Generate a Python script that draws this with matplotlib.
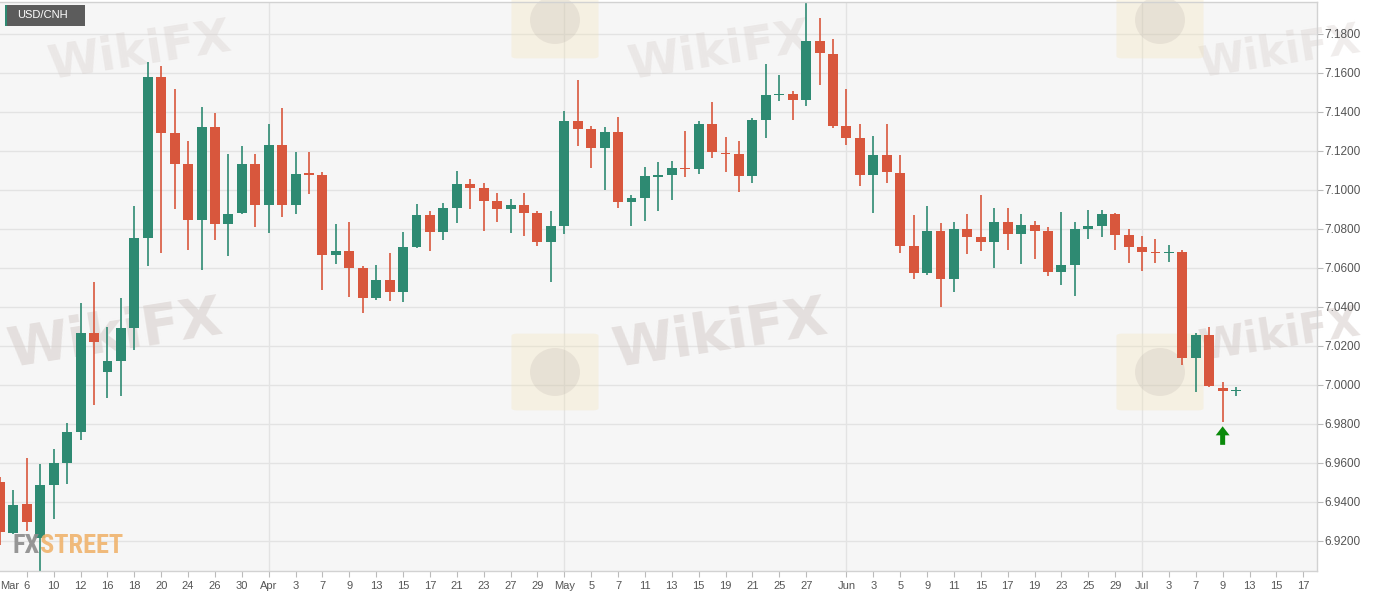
import numpy as np
import pandas as pd
import matplotlib
matplotlib.use("Agg")
import matplotlib.pyplot as plt
from matplotlib import font_manager
from matplotlib.patches import FancyBboxPatch, Rectangle, Ellipse

# -----------------------------
# Dados: USD/CNH diário (mar-jul 2020)
# -----------------------------
dates = pd.bdate_range("2020-03-04", "2020-07-10")

opens = [6.9501, 6.9242, 6.9389, 6.9217, 6.9487, 6.9598, 6.9759, 7.0268, 7.0064, 7.0123,
         7.0291, 7.0755, 7.1581, 7.1291, 7.1135, 7.0845, 7.1321, 7.0825, 7.0880, 7.1133,
         7.0925, 7.1231, 7.0921, 7.1086, 7.1078, 7.0669, 7.0685, 7.0598, 7.0446, 7.0538,
         7.0477, 7.0708, 7.0872, 7.0782, 7.0910, 7.1031, 7.1011, 7.0941, 7.0904, 7.0921,
         7.0882, 7.0733, 7.0814, 7.1356, 7.1311, 7.1213, 7.1295, 7.0939, 7.0958, 7.1072,
         7.1076, 7.1115, 7.1107, 7.1338, 7.1193, 7.1186, 7.1072, 7.1358, 7.1489, 7.1491,
         7.1461, 7.1765, 7.1698, 7.1328, 7.1264, 7.1078, 7.1180, 7.1088, 7.0712, 7.0573,
         7.0788, 7.0544, 7.0802, 7.0759, 7.0731, 7.0835, 7.0775, 7.0822, 7.0792, 7.0581,
         7.0616, 7.0800, 7.0814, 7.0876, 7.0771, 7.0710, 7.0683, 7.0679, 7.0681, 7.0137,
         7.0254, 6.9984, 6.9970]
highs = [6.9530, 6.9461, 6.9628, 6.9593, 6.9671, 6.9804, 7.0420, 7.0528, 7.0299, 7.0446,
         7.0917, 7.1657, 7.1634, 7.1520, 7.1252, 7.1428, 7.1397, 7.1184, 7.1223, 7.1184,
         7.1338, 7.1422, 7.1197, 7.1197, 7.1092, 7.0825, 7.0835, 7.0612, 7.0614, 7.0677,
         7.0786, 7.0929, 7.0894, 7.0933, 7.1095, 7.1056, 7.1035, 7.0984, 7.0955, 7.0984,
         7.0894, 7.0894, 7.1405, 7.1563, 7.1330, 7.1322, 7.1373, 7.0974, 7.1117, 7.1142,
         7.1148, 7.1303, 7.1354, 7.1452, 7.1272, 7.1250, 7.1370, 7.1647, 7.1589, 7.1510,
         7.1966, 7.1884, 7.1775, 7.1520, 7.1340, 7.1277, 7.1338, 7.1178, 7.0874, 7.0917,
         7.0829, 7.0837, 7.0876, 7.0974, 7.0908, 7.0908, 7.0876, 7.0841, 7.0808, 7.0888,
         7.0835, 7.0898, 7.0898, 7.0880, 7.0802, 7.0763, 7.0747, 7.0718, 7.0690, 7.0268,
         7.0297, 7.0015, 6.9988]
lows = [6.9178, 6.9236, 6.9252, 6.9040, 6.9315, 6.9491, 6.9716, 6.9896, 6.9935, 6.9941,
        7.0180, 7.0610, 7.0675, 7.0902, 7.0690, 7.0591, 7.0743, 7.0661, 7.0875, 7.0808,
        7.0778, 7.0861, 7.0876, 7.0978, 7.0489, 7.0620, 7.0450, 7.0367, 7.0436, 7.0430,
        7.0424, 7.0700, 7.0685, 7.0741, 7.0833, 7.0902, 7.0790, 7.0835, 7.0778, 7.0765,
        7.0712, 7.0528, 7.0773, 7.1225, 7.1113, 7.1002, 7.0908, 7.0816, 7.0841, 7.0892,
        7.0949, 7.1066, 7.1082, 7.1164, 7.1090, 7.0992, 7.1037, 7.1268, 7.1458, 7.1360,
        7.1432, 7.1540, 7.1317, 7.1231, 7.1019, 7.0880, 7.1037, 7.0679, 7.0542, 7.0563,
        7.0399, 7.0477, 7.0671, 7.0685, 7.0598, 7.0690, 7.0620, 7.0645, 7.0559, 7.0512,
        7.0456, 7.0751, 7.0757, 7.0690, 7.0628, 7.0585, 7.0626, 7.0630, 7.0103, 6.9964,
        6.9990, 6.9808, 6.9945]
closes = [6.9246, 6.9387, 6.9295, 6.9487, 6.9598, 6.9759, 7.0268, 7.0221, 7.0123, 7.0291,
          7.0755, 7.1581, 7.1293, 7.1135, 7.0845, 7.1321, 7.0825, 7.0878, 7.1133, 7.0925,
          7.1231, 7.0921, 7.1084, 7.1082, 7.0669, 7.0685, 7.0600, 7.0446, 7.0538, 7.0477,
          7.0708, 7.0872, 7.0782, 7.0910, 7.1031, 7.1011, 7.0941, 7.0904, 7.0921, 7.0882,
          7.0733, 7.0814, 7.1356, 7.1311, 7.1213, 7.1295, 7.0939, 7.0958, 7.1074, 7.1075,
          7.1113, 7.1107, 7.1338, 7.1195, 7.1189, 7.1072, 7.1358, 7.1489, 7.1491, 7.1461,
          7.1765, 7.1700, 7.1328, 7.1266, 7.1078, 7.1180, 7.1090, 7.0714, 7.0573, 7.0788,
          7.0544, 7.0802, 7.0759, 7.0731, 7.0835, 7.0775, 7.0822, 7.0792, 7.0581, 7.0616,
          7.0800, 7.0814, 7.0876, 7.0771, 7.0710, 7.0681, 7.0679, 7.0683, 7.0137, 7.0254,
          6.9994, 6.9968, 6.9973]

tick_dates = ["2020-03-06", "2020-03-10", "2020-03-12", "2020-03-16", "2020-03-18",
              "2020-03-20", "2020-03-24", "2020-03-26", "2020-03-30", "2020-04-01",
              "2020-04-03", "2020-04-07", "2020-04-09", "2020-04-13", "2020-04-15",
              "2020-04-17", "2020-04-21", "2020-04-23", "2020-04-27", "2020-04-29",
              "2020-05-01", "2020-05-05", "2020-05-07", "2020-05-11", "2020-05-13",
              "2020-05-15", "2020-05-19", "2020-05-21", "2020-05-25", "2020-05-27",
              "2020-06-01", "2020-06-03", "2020-06-05", "2020-06-09", "2020-06-11",
              "2020-06-15", "2020-06-17", "2020-06-19", "2020-06-23", "2020-06-25",
              "2020-06-29", "2020-07-01", "2020-07-03", "2020-07-07", "2020-07-09",
              "2020-07-13", "2020-07-15", "2020-07-17"]
tick_labels = ["6", "10", "12", "16", "18", "20", "24", "26", "30", "Apr",
               "3", "7", "9", "13", "15", "17", "21", "23", "27", "29",
               "May", "5", "7", "11", "13", "15", "19", "21", "25", "27",
               "Jun", "3", "5", "9", "11", "15", "17", "19", "23", "25",
               "29", "Jul", "3", "7", "9", "13", "15", "17"]
month_dates = ["2020-04-01", "2020-05-01", "2020-06-01", "2020-07-01"]
signal_date = "2020-07-09"

# -----------------------------
# Estilo
# -----------------------------
plt.rcParams["font.family"] = ["Liberation Sans", "DejaVu Sans"]
VERDE = "#2e8a72"
VERMELHO = "#d8573d"
CINZA_TXT = "#555555"
GRADE = "#e3e3e3"

calendario = pd.bdate_range("2020-03-04", "2020-07-17")
pos = {d: i for i, d in enumerate(calendario)}
x = np.array([pos[d] for d in dates])

o = np.array(opens)
h = np.array(highs)
l = np.array(lows)
c = np.array(closes)
cores = np.where(c >= o, VERDE, VERMELHO)

W, H = 1387, 598
fig = plt.figure(figsize=(W / 100, H / 100), dpi=100)
fig.patch.set_facecolor("white")
ax = fig.add_axes([0.0, 27 / H, 1316.7 / W, 569 / H])
ax.set_facecolor("#f6f6f6")

# grade
yticks = np.round(np.arange(6.92, 7.1801, 0.02), 2)
for yv in yticks:
    ax.axhline(yv, color=GRADE, lw=1, zorder=0.5)
for md in month_dates:
    ax.axvline(pos[pd.Timestamp(md)], color=GRADE, lw=1, zorder=0.5)

# marcas d'agua WikiFX
def fx(px):
    return px / W

def fy(py):
    return 1 - py / H

# no original as da borda ficam cortadas; aqui ficam inteiras dentro da imagem
for cx, cy, tam, alfa in [(115, 335, 40, 0.55), (720, 335, 40, 0.55), (1280, 335, 30, 0.55),
                          (140, 52, 34, 0.35), (720, 52, 34, 0.35), (1280, 52, 30, 0.35)]:
    ax.text(fx(cx), fy(cy), "WikiFX", transform=fig.transFigure, fontsize=tam,
            fontweight="bold", family="DejaVu Sans", color="#d6cdca", alpha=alfa,
            rotation=9, ha="center", va="center", clip_on=False, zorder=1)
for ix in (555, 1160):
    for iy in (20, 372):
        ax.add_patch(FancyBboxPatch((fx(ix - 38), fy(iy + 36)), 76 / W, 72 / H,
                                    boxstyle="round,pad=0.004", transform=fig.transFigure,
                                    facecolor="#f3e3b5", edgecolor="none", alpha=0.3,
                                    clip_on=False, zorder=1))
        ax.add_patch(Ellipse((fx(ix), fy(iy)), 50 / W, 48 / H, transform=fig.transFigure,
                             facecolor="#b9aea8", edgecolor="none", alpha=0.22,
                             clip_on=False, zorder=1))

# candles
ax.vlines(x, l, h, colors=cores, lw=1.2, zorder=2)
corpo = np.maximum(np.abs(c - o), 0.0006)
base = np.minimum(o, c) - np.where(np.abs(c - o) < 0.0006, 0.0003, 0)
ax.bar(x, corpo, bottom=base, width=0.74, color=cores, edgecolor="none", zorder=3)

# seta de sinal
xs = pos[pd.Timestamp(signal_date)]
ax.annotate("", xy=(xs, 6.9788), xytext=(xs, 6.9693),
            arrowprops=dict(facecolor="#0a8a0a", edgecolor="none", width=3.6,
                            headwidth=10, headlength=6.5, shrink=0), zorder=4)

# eixos
ax.set_xlim(0, 98.0)
ax.set_ylim(6.9046, 7.1964)
ax.yaxis.tick_right()
ax.set_yticks(yticks)
ax.set_yticklabels([f"{v:.4f}" for v in yticks])
ax.set_xticks([pos[pd.Timestamp(d)] for d in tick_dates])
ax.set_xticklabels(tick_labels)
ax.tick_params(axis="y", length=4, pad=1.5, color="#bbbbbb", labelcolor=CINZA_TXT,
               labelsize=8.5)
ax.tick_params(axis="x", length=4, pad=3, color="#bbbbbb", labelcolor=CINZA_TXT,
               labelsize=8)
ax.annotate("Mar", xy=(0.74, 0), xycoords=("data", "axes fraction"), xytext=(0, -7),
            textcoords="offset points", ha="center", va="top", fontsize=8,
            color=CINZA_TXT, annotation_clip=False)
ax.spines["left"].set_visible(False)
for lado in ("right", "bottom", "top"):
    ax.spines[lado].set_color("#d2d2d2")
    ax.spines[lado].set_linewidth(1)

# rótulo do par
fig.add_artist(Rectangle((fx(5), fy(26)), 80 / W, 21 / H, transform=fig.transFigure,
                         facecolor="#4f4f4f", edgecolor="none", alpha=0.92, zorder=5))
fig.add_artist(Rectangle((fx(5), fy(26)), 2 / W, 21 / H, transform=fig.transFigure,
                         facecolor=VERDE, edgecolor="none", zorder=6))
fig.text(fx(17), fy(15.5), "USD/CNH", color="white", fontsize=8, va="center",
         ha="left", zorder=6)

# logo FXSTREET
disponiveis = {f.name for f in font_manager.fontManager.ttflist}
fonte_logo = "DejaVu Sans"
for cand in ("Liberation Sans Narrow", "Roboto Condensed", "Open Sans Condensed"):
    if cand in disponiveis:
        fonte_logo = cand
        break
fig.text(fx(40), fy(553), "FX", color="#8c8c8c", fontsize=19, fontweight="bold",
         family=fonte_logo, ha="right", va="baseline", alpha=0.9, zorder=6)
fig.text(fx(40), fy(553), "STREET", color="#f0b46e", fontsize=19, fontweight="bold",
         family=fonte_logo, ha="left", va="baseline", alpha=0.9, zorder=6)

fig.savefig("out.png", dpi=100)
